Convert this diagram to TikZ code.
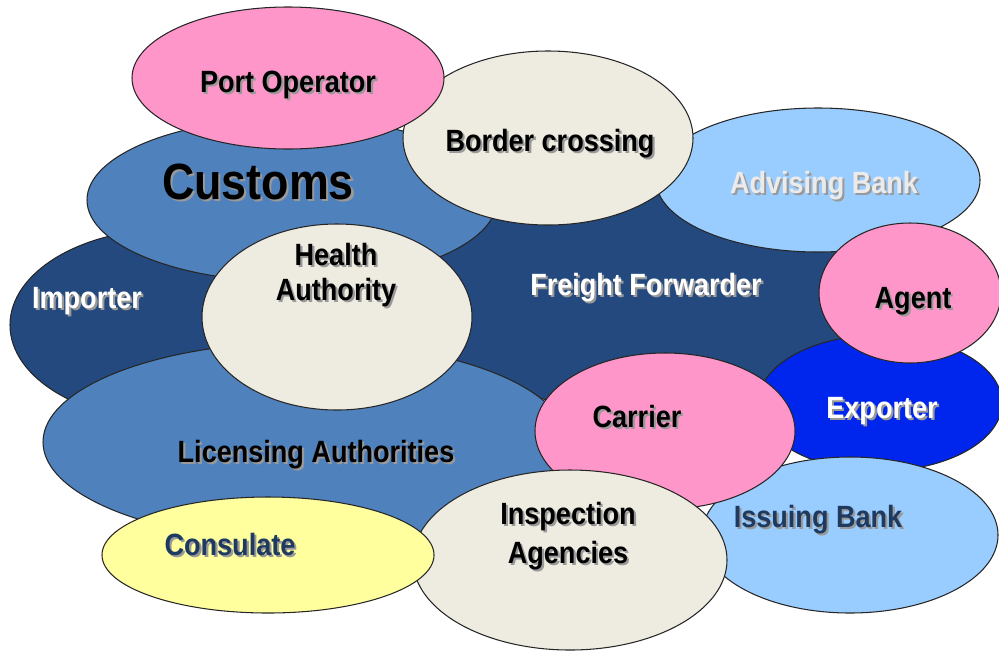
\documentclass[tikz,border=0pt]{standalone}
\usepackage{fontspec}
\setmainfont{Liberation Sans}[FakeStretch=0.88]
\definecolor{navy}{HTML}{23497E}
\definecolor{midblue}{HTML}{4F81BD}
\definecolor{beige}{HTML}{EEECE1}
\definecolor{lightblue}{HTML}{99CCFF}
\definecolor{pinkish}{HTML}{FF96CA}
\definecolor{expblue}{HTML}{0026EE}
\definecolor{yellowish}{HTML}{FFFF9E}
\definecolor{inkblue}{HTML}{1F3A60}
\newcommand{\shd}[1]{\leavevmode\rlap{\hspace{1.2pt}\raisebox{-1.2pt}{\textcolor{black!40}{#1}}}#1}
\tikzset{
 bubble/.style={draw=black!85, line width=0.6pt},
 tag/.style={font=\bfseries\fontsize{17.5}{20}\selectfont, align=center, inner sep=0, anchor=base},
}

\begin{document}
\begin{tikzpicture}[x=0.02cm, y=-0.02cm]
\useasboundingbox (0,0) rectangle (999,653);
\foreach \cx/\cy/\rx/\ry/\col in {640/280/240/130/navy, 170/325/160/96/navy,
  292/200/205/82/midblue, 305/442/262/100/midblue, 337/317/135/93/beige,
  818/180/162/72/lightblue, 548/138/145/87/beige, 288/78/156/71/pinkish,
  880/403/122/68/expblue, 910/293/91/70/pinkish, 850/535/148/78/lightblue,
  665/431/130/78/pinkish, 570/560/157/90/beige, 268/555/166/58/yellowish}
 \draw[bubble, fill=\col] (\cx,\cy) ellipse ({\rx} and {\ry});

\node[tag] (port) at (288,92) {\shd{Port Operator}};
\node[tag, font=\bfseries\fontsize{29}{34}\selectfont] (customs) at (258,199) {\shd{Customs}};
\node[tag] (border) at (550,151) {\shd{Border crossing}};
\node[tag, text=black!8] (advising) at (824,193) {\shd{Advising Bank}};
\node[tag, anchor=center] (health) at (336,276) {\shd{Health}\\\shd{Authority}};
\node[tag, text=white] (importer) at (87,308) {\shd{Importer}};
\node[tag, text=white] (freight) at (646,295) {\shd{Freight Forwarder}};
\node[tag] (agent) at (913,308) {\shd{Agent}};
\node[tag, text=white] (exporter) at (882,418) {\shd{Exporter}};
\node[tag] (carrier) at (637,427) {\shd{Carrier}};
\node[tag] (licensing) at (316,462) {\shd{Licensing Authorities}};
\node[tag, text=inkblue] (consulate) at (230,555) {\shd{Consulate}};
\node[tag, anchor=center, font=\bfseries\fontsize{17.5}{22.5}\selectfont] (inspection) at (568,537) {\shd{Inspection}\\\shd{Agencies}};
\node[tag, text=inkblue] (issuing) at (818,527) {\shd{Issuing Bank}};
\end{tikzpicture}
\end{document}
